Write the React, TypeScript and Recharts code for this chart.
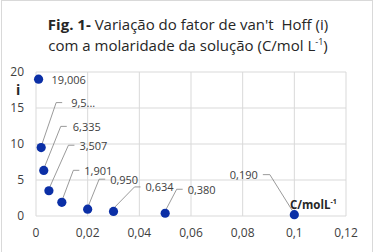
import React from 'react';
import { ScatterChart, Scatter, XAxis, YAxis, CartesianGrid } from 'recharts';

// molaridade (mol/L) e fator de van't Hoff
const concentrations = [0.001, 0.002, 0.003, 0.005, 0.01, 0.02, 0.03, 0.05, 0.1];
const vantHoff = [19.006, 9.503, 6.335, 3.507, 1.901, 0.95, 0.634, 0.38, 0.19];
const pointLabels = ['19,006', '9,5...', '6,335', '3,507', '1,901', '0,950', '0,634', '0,380', '0,190'];
const xTicks = [0, 0.02, 0.04, 0.06, 0.08, 0.1, 0.12];
const yTicks = [0, 5, 10, 15, 20];

// label placement relative to the point (leader bend dx/dy, side)
const labelOffsets = [
  { dx: 13, dy: 0, leader: false, left: false, gap: 0 },
  { dx: 15, dy: -45, leader: true, left: false, gap: 9 },
  { dx: 17, dy: -44, leader: true, left: false, gap: 6 },
  { dx: 19.5, dy: -45.5, leader: true, left: false, gap: 5 },
  { dx: 11.5, dy: -32, leader: true, left: false, gap: 5 },
  { dx: 11.5, dy: -30, leader: true, left: false, gap: 5 },
  { dx: 21, dy: -24.5, leader: true, left: false, gap: 5 },
  { dx: 11.5, dy: -24, leader: true, left: false, gap: 5 },
  { dx: -24.5, dy: -40, leader: true, left: true, gap: 5 },
];

const data = concentrations.map((c, k) => ({ c, i: vantHoff[k], idx: k }));

const fmt = (v: number) => String(v).replace('.', ',');

const PointWithLabel = (props: any) => {
  const { cx, cy, payload } = props;
  const k = payload.idx;
  const o = labelOffsets[k];
  const bx = cx + o.dx;
  const by = cy + o.dy;
  const hx = o.left ? bx - 7 : bx + 6;
  const tx = o.left ? hx - o.gap : hx + o.gap;
  return (
    <g>
      {o.leader && (
        <polyline
          points={`${cx + (o.left ? -2 : 1)},${cy - 4} ${bx},${by} ${hx},${by}`}
          fill="none"
          stroke="#808080"
          strokeWidth={0.8}
        />
      )}
      <circle cx={cx} cy={cy} r={4.6} fill="#0b2fa6" />
      <text
        x={o.leader ? tx : bx}
        y={by + 0.5}
        dy="0.35em"
        textAnchor={o.left ? 'end' : 'start'}
        fontSize={11}
        fill="#404040"
        fontFamily="'Open Sans', sans-serif"
      >
        {pointLabels[k]}
      </text>
    </g>
  );
};

export default function App() {
  return (
    <div
      style={{
        position: 'absolute',
        left: 0,
        top: 0,
        width: 376,
        height: 252,
        background: '#fff',
        fontFamily: "'Open Sans', sans-serif",
      }}
    >
      <div
        style={{
          position: 'absolute',
          left: 1,
          top: 0,
          width: 372,
          height: 252,
          borderLeft: '1px solid #d9d9d9',
          borderRight: '1px solid #d9d9d9',
          borderTop: '1px solid #d9d9d9',
          boxSizing: 'border-box',
        }}
      />
      <div
        style={{
          position: 'absolute',
          left: 0,
          top: 14,
          width: 376,
          textAlign: 'center',
          fontSize: 15,
          lineHeight: '21px',
          color: '#262626',
        }}
      >
        <div>
          <b>Fig. 1-</b> Variação do fator de van't&nbsp; Hoff (i)
        </div>
        <div>
          com a molaridade da solução (C/mol L<sup style={{ fontSize: 9, lineHeight: 0 }}>-1</sup>)
        </div>
      </div>
      <ScatterChart width={376} height={252} margin={{ top: 72, right: 30, bottom: 0, left: 0 }} style={{ position: 'absolute', left: 0, top: 0 }}>
        <CartesianGrid stroke="#d9d9d9" />
        <XAxis
          type="number"
          dataKey="c"
          domain={[0, 0.12]}
          ticks={xTicks}
          tickFormatter={fmt}
          axisLine={false}
          tickLine={false}
          height={36}
          tickMargin={6}
          tick={{ fill: '#404040', fontSize: 12 }}
          interval={0}
        />
        <YAxis
          type="number"
          dataKey="i"
          domain={[0, 20]}
          ticks={yTicks}
          axisLine={false}
          tickLine={false}
          width={36}
          tickMargin={6}
          tick={{ fill: '#404040', fontSize: 12 }}
          interval={0}
        />
        <Scatter data={data} shape={PointWithLabel} isAnimationActive={false} />
      </ScatterChart>
      <div
        style={{
          position: 'absolute',
          left: 16,
          top: 81,
          fontSize: 14,
          lineHeight: '18px',
          fontWeight: 700,
          color: '#262626',
        }}
      >
        i
      </div>
      <div
        style={{
          position: 'absolute',
          left: 290,
          top: 197,
          fontSize: 11.5,
          fontWeight: 700,
          color: '#262626',
          whiteSpace: 'nowrap',
        }}
      >
        C/molL<sup style={{ fontSize: 7, lineHeight: 0 }}>-1</sup>
      </div>
    </div>
  );
}
